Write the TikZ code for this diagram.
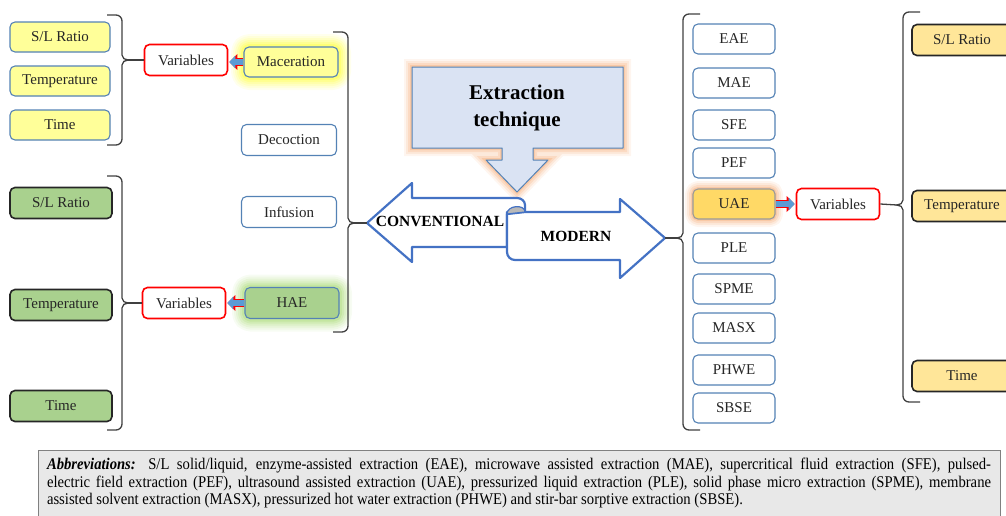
\documentclass[tikz,border=0pt]{standalone}
\usepackage{fontspec}
\setmainfont{Liberation Serif}
\newfontfamily\abbrfont[FakeStretch=0.9]{Liberation Serif}
\usetikzlibrary{arrows.meta, positioning, calc}
\definecolor{boxblue}{RGB}{84, 130, 181}
\definecolor{lightyellow}{RGB}{255, 255, 153}
\definecolor{leafgreen}{RGB}{169, 209, 142}
\definecolor{gold}{RGB}{255, 217, 102}
\definecolor{paleorange}{RGB}{255, 230, 153}
\definecolor{callblue}{RGB}{218, 227, 243}
\definecolor{arrowblue}{RGB}{68, 114, 196}
\definecolor{blockblue}{RGB}{91, 155, 213}
\definecolor{glowyellow}{RGB}{255, 255, 0}
\definecolor{glowgreen}{RGB}{146, 208, 80}
\definecolor{gloworange}{RGB}{244, 160, 100}
\definecolor{bracegray}{RGB}{64, 64, 64}
\definecolor{abbrgray}{RGB}{232, 232, 232}

\begin{document}
\begin{tikzpicture}[x=1pt, y=-1pt,
    tbox/.style={rectangle, rounded corners=5pt, draw=boxblue, line width=1.1pt, minimum width=100pt, minimum height=30pt, inner sep=2pt, font=\fontsize{15}{18}\selectfont, text=black!85},
    ybox/.style={tbox, fill=lightyellow},
    gbox/.style={tbox, fill=leafgreen, draw=black!85, line width=1.6pt, minimum width=102pt, minimum height=31pt},
    wbox/.style={tbox, fill=white, minimum width=95pt, minimum height=31pt},
    mbox/.style={tbox, fill=white, minimum width=82pt},
    obox/.style={tbox, fill=paleorange, draw=black!85, line width=1.6pt, minimum height=31pt},
    varbox/.style={tbox, draw=red, line width=1.6pt, fill=white, minimum width=83pt, minimum height=31pt},
    glow/.style={line join=round,
        preaction={draw=#1, line width=26pt, opacity=0.07}, preaction={draw=#1, line width=22pt, opacity=0.08},
        preaction={draw=#1, line width=18pt, opacity=0.1}, preaction={draw=#1, line width=14pt, opacity=0.12},
        preaction={draw=#1, line width=10pt, opacity=0.15}, preaction={draw=#1, line width=6pt, opacity=0.2}},
    softglow/.style={line join=round,
        preaction={draw=#1, line width=16pt, opacity=0.1}, preaction={draw=#1, line width=12pt, opacity=0.15},
        preaction={draw=#1, line width=8pt, opacity=0.2}, preaction={draw=#1, line width=4pt, opacity=0.3}},
    bracket/.style={draw=bracegray, line width=1.3pt},
    link/.style={draw=bracegray, line width=1.3pt},
    blockarrow/.style={draw=blockblue, line width=5.5pt, shorten >=1pt, -{Triangle[length=6pt,width=12.5pt]},
        preaction={draw=red, line width=7.5pt, -{Triangle[length=8pt,width=15.5pt]}}},
    ribbon/.style={draw=arrowblue, line width=2.2pt, fill=white, line join=round},
    ribbontext/.style={font=\bfseries\fontsize{15.5}{18}\selectfont}
]
    \useasboundingbox (0,0) rectangle (1006,515);

    % conventional, left part
    \node[ybox] (sl1) at (60,37) {S/L Ratio};
    \node[ybox] (temp1) at (60,81) {Temperature};
    \node[ybox] (time1) at (60,125) {Time};
    \node[ybox, minimum width=94pt, glow=glowyellow] (mac) at (291,62) {Maceration};
    \node[varbox] (var1) at (186,60) {Variables};
    \node[wbox] (dec) at (289,140) {Decoction};
    \node[wbox] (inf) at (289,212) {Infusion};
    \node[tbox, fill=leafgreen, minimum width=94pt, minimum height=31pt, glow=glowgreen] (hae) at (292,303) {HAE};
    \node[gbox] (sl2) at (61,203) {S/L Ratio};
    \node[gbox] (temp2) at (61,305) {Temperature};
    \node[gbox] (time2) at (61,406) {Time};
    \node[varbox] (var2) at (184,303) {Variables};

    % modern, right part
    \foreach \name/\y in {EAE/39, MAE/83, SFE/125, PEF/163, PLE/248, SPME/289, MASX/328, PHWE/370, SBSE/408}
        \node[mbox] (\name) at (734,\y) {\name};
    \node[mbox, fill=gold, draw=gray!80, softglow=gloworange] (uae) at (734,204) {UAE};
    \node[varbox] (var3) at (838,204) {Variables};
    \node[obox] (sl3) at (962,40) {S/L Ratio};
    \node[obox] (temp3) at (962,206) {Temperature};
    \node[obox] (time3) at (962,376) {Time};

    % extraction technique callout
    \draw[fill=callblue, draw=boxblue, line width=1pt, softglow=gloworange]
        (412,67) -- (623,67) -- (623,148) -- (533,148) -- (533,160) -- (548,160) -- (517,192)
        -- (486,160) -- (502,160) -- (502,148) -- (412,148) -- cycle;
    \node[font=\bfseries\fontsize{21}{27}\selectfont, align=center] (ext) at (517,108) {Extraction\\technique};

    % opposing arrows
    \draw[ribbon] (367,223) -- (412,183) -- (412,198) -- (517,198) to[out=0,in=90] (525,205) -- (525,212)
        -- (507,212) -- (507,247) -- (412,247) -- (412,262) -- cycle;
    \draw[ribbon] (525,212) -- (620,212) -- (620,199) -- (665,238) -- (620,278) -- (620,260) -- (515,260)
        to[out=180,in=-90] (507,252) -- (507,214) -- cycle;
    \draw[ribbon, fill=gray!55, line width=1.2pt] (507,214) .. controls (507,205) and (525,204) .. (525,212) -- cycle;
    \coordinate (convtip) at (367,223);
    \coordinate (modtip) at (665,238);
    \node[ribbontext] (conv) at (440,221) {CONVENTIONAL};
    \node[ribbontext] (mod) at (576,236) {MODERN};

    % brackets
    \foreach \x/\t/\m/\b/\n in {122/15/60/145/bA, 122/176/303/430/bB, 348/32/223/332/bC}
    {
        \draw[bracket] (\x-15,\t) -- (\x-6,\t) to[out=0,in=90] (\x,\t+6) -- (\x,\m-5) to[out=-90,in=180] (\x+6,\m)
            to[out=180,in=90] (\x,\m+5) -- (\x,\b-6) to[out=-90,in=0] (\x-6,\b) -- (\x-15,\b);
        \coordinate (\n) at (\x+6,\m);
    }
    \foreach \x/\t/\m/\b/\n in {683/14/238/430/bD, 903/12/205/402/bE}
    {
        \draw[bracket] (\x+17,\t) -- (\x+6,\t) to[out=180,in=90] (\x,\t+6) -- (\x,\m-5) to[out=-90,in=0] (\x-6,\m)
            to[out=0,in=90] (\x,\m+5) -- (\x,\b-6) to[out=-90,in=180] (\x+6,\b) -- (\x+17,\b);
        \coordinate (\n) at (\x-6,\m);
    }

    % connectors
    \draw[link] (bA) -- (var1.west);
    \draw[link] (bB) -- (var2.west);
    \draw[link] (bC) -- (convtip);
    \draw[link] (modtip) -- (bD);
    \draw[link] (var3.east) -- (bE);
    \draw[blockarrow] (mac.west) -- (mac.west -| var1.east);
    \draw[blockarrow] (hae.west) -- (var2.east);
    \draw[blockarrow] (uae.east) -- (var3.west);

    % abbreviations
    \node[draw=gray, fill=abbrgray, line width=0.8pt, minimum width=962pt, minimum height=66pt, text width=944pt,
        align=justify, inner sep=0pt, font=\abbrfont\fontsize{16.3}{17.5}\selectfont] (abbr) at (519,483)
        {\textbf{\textit{Abbreviations:}} S/L solid/liquid, enzyme-assisted extraction (EAE), microwave assisted extraction (MAE), supercritical fluid extraction (SFE), pulsed-\linebreak electric field extraction (PEF), ultrasound assisted extraction (UAE), pressurized liquid extraction (PLE), solid phase micro extraction (SPME), membrane\linebreak assisted solvent extraction (MASX), pressurized hot water extraction (PHWE) and stir-bar sorptive extraction (SBSE).};
\end{tikzpicture}
\end{document}
